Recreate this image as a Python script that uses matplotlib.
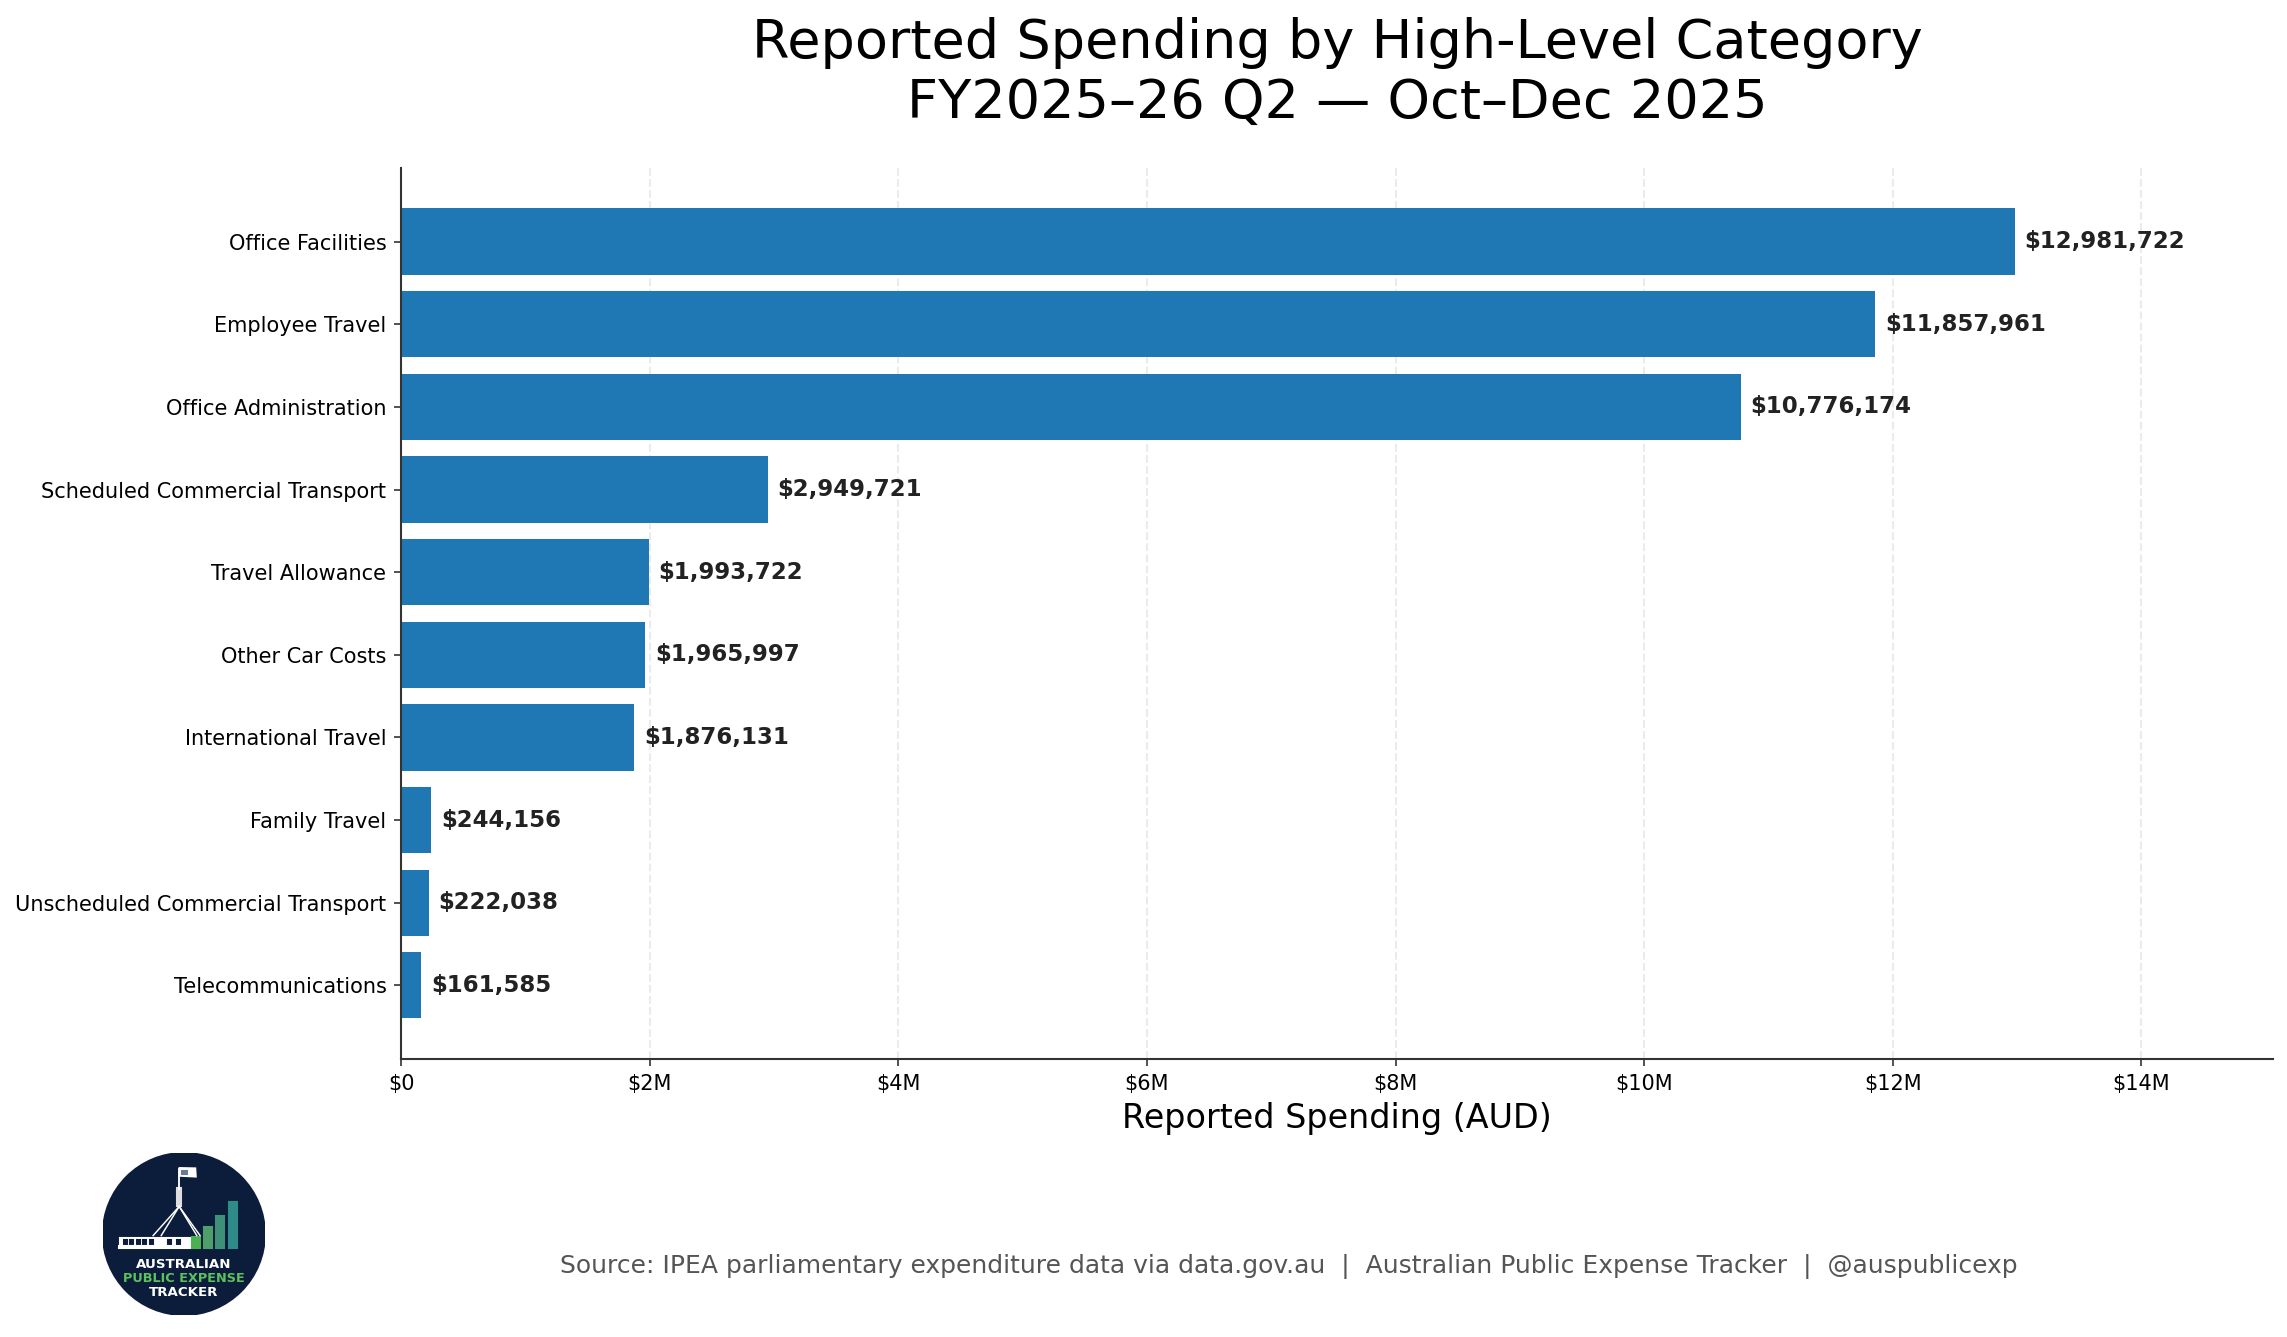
import matplotlib
matplotlib.use("Agg")
import matplotlib.pyplot as plt
from matplotlib.patches import Circle, Rectangle, Polygon
from matplotlib.ticker import FuncFormatter

# data
categories = [
    "Office Facilities",
    "Employee Travel",
    "Office Administration",
    "Scheduled Commercial Transport",
    "Travel Allowance",
    "Other Car Costs",
    "International Travel",
    "Family Travel",
    "Unscheduled Commercial Transport",
    "Telecommunications",
]
spending = [12981722, 11857961, 10776174, 2949721, 1993722,
            1965997, 1876131, 244156, 222038, 161585]

title_text = "Reported Spending by High-Level Category\nFY2025\u201326 Q2 \u2014 Oct\u2013Dec 2025"
source_text = ("Source: IPEA parliamentary expenditure data via data.gov.au  |  "
               "Australian Public Expense Tracker  |  @auspublicexp")

DPI = 150
fig = plt.figure(figsize=(2287 / DPI, 1337 / DPI), dpi=DPI)
ax = fig.add_axes([0.17534, 0.20793, 0.81854, 0.66642])

ypos = list(range(len(categories)))
ax.barh(ypos, spending, height=0.8, color="#1f77b4", zorder=2)
ax.set_yticks(ypos)
ax.set_yticklabels(categories, fontsize=10)
ax.invert_yaxis()

vmax = max(spending)
ax.set_xlim(0, vmax * 1.16)
for y, v in zip(ypos, spending):
    ax.text(v + vmax * 0.006, y, f"${v:,.0f}", va="center", ha="left",
            fontsize=11, fontweight="bold", color="#222222", zorder=3)

ax.xaxis.set_major_formatter(FuncFormatter(lambda x, pos: "$0" if x == 0 else f"${x / 1e6:.0f}M"))
ax.tick_params(axis="both", labelsize=10, colors="#333333", labelcolor="black")
ax.set_xlabel("Reported Spending (AUD)", fontsize=16)
ax.set_title(title_text, fontsize=26, pad=24)

ax.grid(axis="x", linestyle="--", color="#ebebeb", linewidth=1.0, zorder=0)
ax.set_axisbelow(True)
for side in ("top", "right"):
    ax.spines[side].set_visible(False)
for side in ("left", "bottom"):
    ax.spines[side].set_color("#333333")
    ax.spines[side].set_linewidth(1.0)

fig.text(0.5634, 0.0525, source_text, ha="center", va="center",
         fontsize=12, color="#555555")

# logo (drawn approximation)
lg = fig.add_axes([0.0450, 0.01645, 0.0708, 0.1212])
lg.set_xlim(0, 1)
lg.set_ylim(0, 1)
lg.set_aspect("equal")
lg.axis("off")
navy = "#0b1d3a"
lg.add_patch(Circle((0.5, 0.5), 0.5, color=navy))

# building
lg.add_patch(Rectangle((0.103, 0.427), 0.433, 0.05, color="white"))
for wx in [0.13, 0.17, 0.21, 0.25, 0.29, 0.40, 0.46]:
    lg.add_patch(Rectangle((wx, 0.437), 0.018, 0.025, color=navy))
lg.add_patch(Rectangle((0.10, 0.415), 0.44, 0.012, color="white"))

# flagpole and legs
lg.add_patch(Rectangle((0.458, 0.670), 0.027, 0.114, color="#dddddd"))
lg.plot([0.471, 0.471], [0.78, 0.90], color="white", lw=0.9)
for lx in [0.31, 0.36, 0.58, 0.60]:
    lg.plot([0.471, lx], [0.670, 0.49], color="white", lw=0.7)
lg.add_patch(Polygon([[0.474, 0.86], [0.573, 0.855], [0.57, 0.905], [0.474, 0.907]],
                     closed=True, color="white"))
lg.add_patch(Rectangle((0.49, 0.87), 0.03, 0.02, color="#6a7b99"))

# bars in the logo
logo_bars = [(0.551, 0.480, "#4caf50"), (0.623, 0.546, "#4f9f6a"),
             (0.701, 0.608, "#3f9078"), (0.779, 0.695, "#2f8a8a")]
for bx, top, col in logo_bars:
    lg.add_patch(Rectangle((bx, 0.412), 0.048, top - 0.412, color=col))

lg.text(0.5, 0.309, "AUSTRALIAN", ha="center", va="center", fontsize=6.4,
        fontweight="bold", color="white")
lg.text(0.5, 0.227, "PUBLIC EXPENSE", ha="center", va="center", fontsize=6.2,
        fontweight="bold", color="#5cc15e")
lg.text(0.5, 0.140, "TRACKER", ha="center", va="center", fontsize=6.4,
        fontweight="bold", color="white")

fig.savefig("out.png", dpi=DPI)
